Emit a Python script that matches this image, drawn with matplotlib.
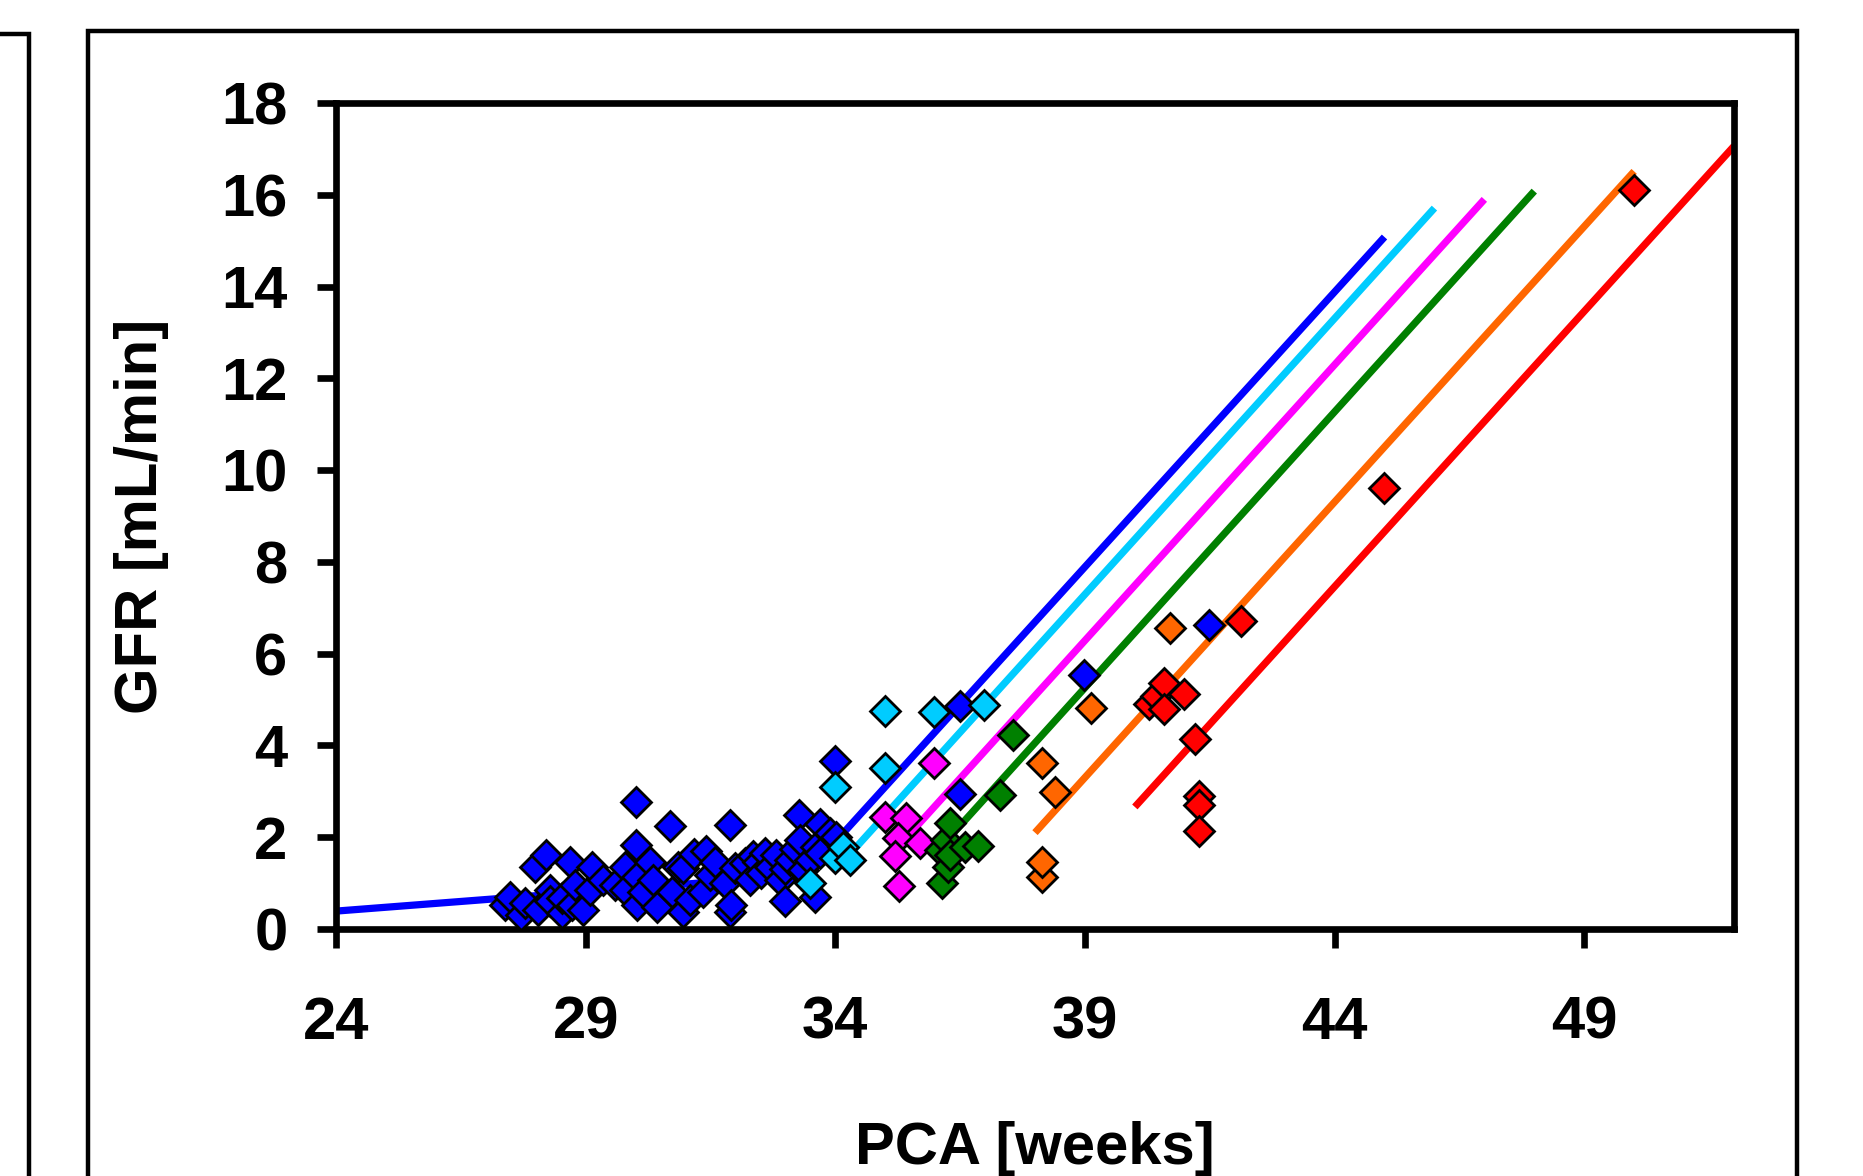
import matplotlib
matplotlib.use("Agg")
import matplotlib.pyplot as plt
from matplotlib.lines import Line2D

plt.rcParams['font.family'] = ['Liberation Sans', 'DejaVu Sans']
plt.rcParams['font.weight'] = 'bold'

# measured points, one list pair per group
blue_x = [27.38, 27.48, 27.71, 27.78, 27.98, 28.04, 28.20, 28.28, 28.28, 28.52, 28.52, 28.68,
          28.72, 28.78, 28.95, 29.08, 29.12, 29.35, 29.58, 29.78, 29.78, 30.00, 30.00, 30.02,
          30.02, 30.15, 30.28, 30.35, 30.42, 30.68, 30.72, 30.85, 30.95, 30.95, 31.09, 31.18,
          31.42, 31.35, 31.49, 31.60, 31.79, 31.89, 31.89, 31.92, 31.99, 32.19, 32.29, 32.35,
          32.45, 32.52, 32.59, 32.70, 32.82, 32.89, 32.99, 33.00, 33.09, 33.20, 33.27, 33.29,
          33.35, 33.50, 33.59, 33.62, 33.69, 33.69, 33.89, 33.99, 34.02,
          36.49, 36.49, 38.98, 41.48]
blue_y = [0.52, 0.70, 0.31, 0.56, 1.36, 0.41, 1.61, 0.85, 0.60, 0.34, 0.67, 1.45,
          0.52, 0.96, 0.41, 0.85, 1.36, 1.07, 0.96, 1.36, 0.85, 2.76, 1.83, 1.14,
          0.52, 0.81, 1.47, 1.07, 0.49, 2.25, 0.81, 1.36, 1.32, 0.38, 0.63, 1.63,
          1.69, 0.81, 1.18, 1.45, 1.00, 2.27, 0.36, 0.52, 1.32, 1.43, 1.07, 1.58,
          1.45, 1.21, 1.65, 1.35, 1.61, 1.07, 0.60, 1.30, 1.50, 1.75, 2.49, 1.94,
          1.29, 1.50, 0.70, 1.79, 2.28, 1.65, 2.09, 3.66, 2.01,
          4.86, 2.94, 5.54, 6.63]

cyan_x = [33.49, 33.99, 34.15, 34.30, 33.99, 34.99, 34.99, 35.98, 36.98]
cyan_y = [1.00, 1.55, 1.79, 1.50, 3.09, 3.50, 4.76, 4.72, 4.88]

magenta_x = [34.99, 35.42, 35.26, 35.69, 35.19, 35.28, 35.98]
magenta_y = [2.45, 2.41, 1.98, 1.87, 1.59, 0.94, 3.61]

green_x = [36.09, 36.14, 36.22, 36.26, 36.29, 36.29, 36.59, 36.86, 37.29, 37.56]
green_y = [1.72, 1.01, 1.94, 1.36, 2.30, 1.61, 1.79, 1.81, 2.92, 4.23]

orange_x = [38.14, 38.14, 38.14, 38.41, 39.13, 40.70]
orange_y = [1.14, 1.47, 3.61, 2.99, 4.81, 6.56]

red_x = [40.28, 40.43, 40.58, 40.58, 40.99, 41.20, 41.28, 41.28, 41.28, 42.13, 44.98, 49.99]
red_y = [4.90, 5.07, 5.37, 4.79, 5.12, 4.14, 2.90, 2.70, 2.14, 6.72, 9.62, 16.11]

# fitted lines (end points)
blue_line_x = [24.0, 33.4, 45.0]
blue_line_y = [0.39, 1.18, 15.08]
cyan_line_x = [34.0, 46.0]
cyan_line_y = [1.28, 15.71]
magenta_line_x = [35.0, 47.0]
magenta_line_y = [1.48, 15.90]
green_line_x = [36.0, 48.0]
green_line_y = [1.65, 16.08]
orange_line_x = [38.0, 50.0]
orange_line_y = [2.10, 16.51]
red_line_x = [40.0, 52.0]
red_line_y = [2.66, 17.06]

x_ticks = [24, 29, 34, 39, 44, 49]
y_ticks = [0, 2, 4, 6, 8, 10, 12, 14, 16, 18]

colors = {"blue": "#0000FF", "cyan": "#00CCFF", "magenta": "#FF00FF",
          "green": "#008000", "orange": "#FF6600", "red": "#FF0000"}

fig = plt.figure(figsize=(18.63, 11.76), dpi=100)
ax = fig.add_axes([336 / 1863, 1 - 929 / 1176, 1398 / 1863, 826 / 1176])

lines = [(blue_line_x, blue_line_y, "blue"), (cyan_line_x, cyan_line_y, "cyan"),
         (magenta_line_x, magenta_line_y, "magenta"), (green_line_x, green_line_y, "green"),
         (orange_line_x, orange_line_y, "orange"), (red_line_x, red_line_y, "red")]
for lx, ly, c in lines:
    ax.plot(lx, ly, color=colors[c], lw=5.2, solid_capstyle="butt", zorder=2, clip_on=False)

groups = [(blue_x, blue_y, "blue"), (cyan_x, cyan_y, "cyan"), (magenta_x, magenta_y, "magenta"),
          (green_x, green_y, "green"), (orange_x, orange_y, "orange"), (red_x, red_y, "red")]
for gx, gy, c in groups:
    ax.plot(gx, gy, linestyle="none", marker="D", markersize=15, markerfacecolor=colors[c],
            markeredgecolor="black", markeredgewidth=2.0, zorder=3)

ax.set_xlim(24, 52)
ax.set_ylim(0, 18)
ax.set_xticks(x_ticks)
ax.set_yticks(y_ticks)
for s in ax.spines.values():
    s.set_linewidth(4.8)
ax.tick_params(axis="both", direction="out", length=14, width=4.8, labelsize=43)
ax.tick_params(axis="y", pad=21)
ax.tick_params(axis="x", pad=34)
for lab in ax.get_xticklabels() + ax.get_yticklabels():
    lab.set_fontweight("bold")

ax.set_xlabel("PCA [weeks]", fontsize=43, fontweight="bold")
ax.set_ylabel("GFR [mL/min]", fontsize=43, fontweight="bold")
ax.xaxis.set_label_coords(0.5, -0.232)
ax.yaxis.set_label_coords(-0.1195, 0.5)

# outer frame of this panel and the edge of the neighbouring one
x0, x1, ytop = 88 / 1863, 1797 / 1863, 1 - 31 / 1176
fig.add_artist(Line2D([x0, x0, x1, x1], [-0.1, ytop, ytop, -0.1], transform=fig.transFigure,
                      color="black", lw=3.2, solid_joinstyle="miter"))
xl, ytl = 29 / 1863, 1 - 34 / 1176
fig.add_artist(Line2D([-0.1, xl, xl], [ytl, ytl, -0.1], transform=fig.transFigure,
                      color="black", lw=3.2, solid_joinstyle="miter"))

fig.savefig("out.png", dpi=100)
